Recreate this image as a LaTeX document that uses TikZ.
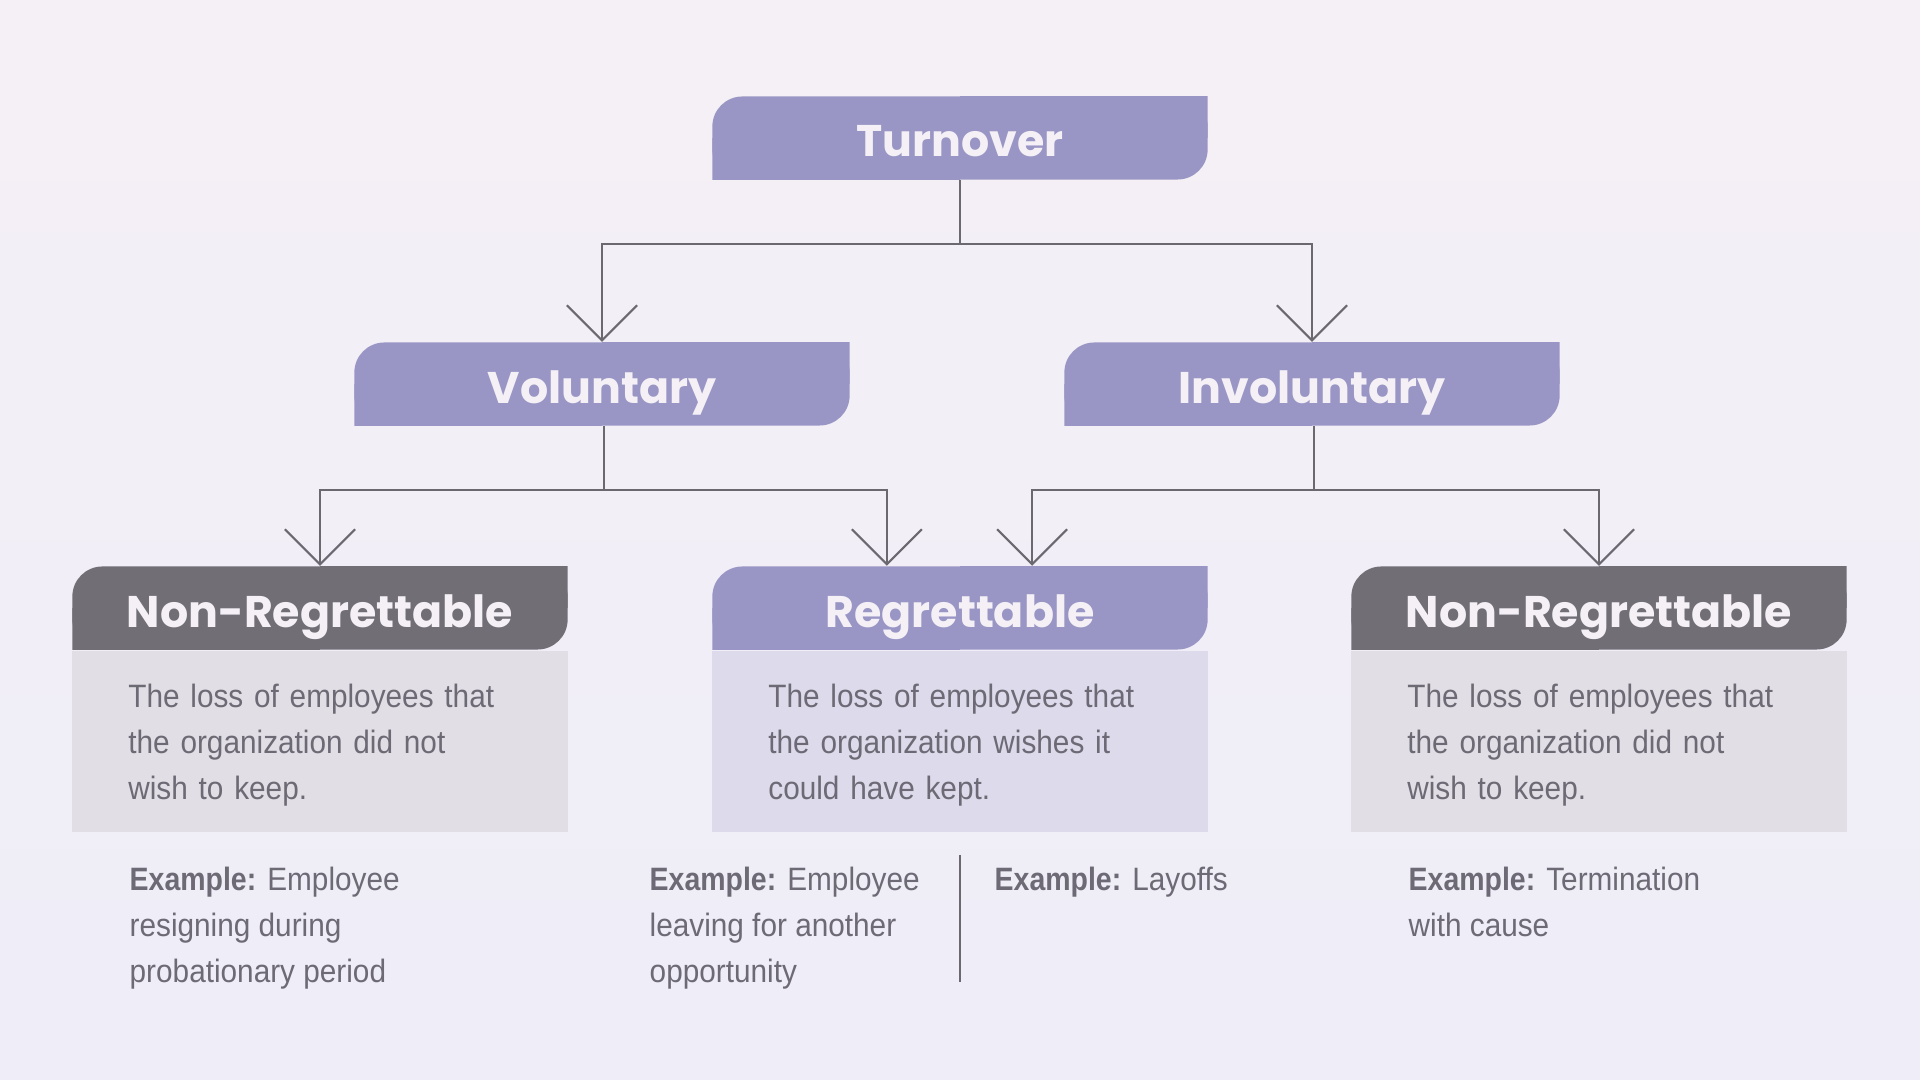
\documentclass[tikz,border=0pt]{standalone}
\usepackage{fontspec}
\setmainfont[FakeStretch=0.92,BoldFeatures={FakeStretch=0.88}]{Liberation Sans}
\newfontfamily\headfont{Poppins}
\usepackage{tikz}
\usetikzlibrary{positioning}
\usetikzlibrary{arrows.meta}
\definecolor[named]{tabpurple}{HTML}{9996C5}
\definecolor[named]{tabgrey}{HTML}{716E76}
\definecolor[named]{tabtext}{HTML}{F4F0F6}
\definecolor[named]{bodytext}{HTML}{6D6A75}
\definecolor[named]{linegrey}{HTML}{6B6870}
\tikzset{
  tab/.style={minimum width=4.95cm,minimum height=0.83cm,inner sep=0pt,text=tabtext,
    text height=0.38cm,text depth=0cm,
    font=\headfont\bfseries\fontsize{12.6}{15}\selectfont,
    path picture={
      \fill[#1,rounded corners=3mm] (path picture bounding box.south west) rectangle (path picture bounding box.north east);
      \fill[#1] (path picture bounding box.south west) rectangle (path picture bounding box.center);
      \fill[#1] (path picture bounding box.center) rectangle (path picture bounding box.north east);}},
  bodybox/.style={fill=#1,minimum height=1.81cm,text width=3.83cm,inner xsep=0.56cm,inner ysep=0pt,
    align=left,text=bodytext,font=\fontsize{9.2}{13.1}\selectfont},
  extext/.style={anchor=north west,inner sep=0pt,align=left,text=bodytext,font=\fontsize{9.2}{13.1}\selectfont}
}
\begin{document}
\begin{tikzpicture}[x=0.01cm,y=-0.01cm,>={Straight Barb[length=3.5mm,width=7mm]}]
\definecolor{bgtop}{HTML}{F5F0F5};
\definecolor{bgbot}{HTML}{EEEDF8};
\definecolor{greybody}{HTML}{E1DFE5};
\definecolor{purplebody}{HTML}{DCDAEB};
\shade[top color=bgtop,bottom color=bgbot] (0,0) rectangle (1920,1080);
\useasboundingbox (0,0) rectangle (1920,1080);
% the three levels
\node [tab=tabpurple] (to) at (960,138) {Turnover};
\node [tab=tabpurple] (vol) at (602,384) {Voluntary};
\node [tab=tabpurple] (invol) at (1312,384) {Involuntary};
\node [tab=tabgrey] (nrl) at (320,608) {Non-Regrettable};
\node [tab=tabpurple] (reg) at (960,608) {Regrettable};
\node [tab=tabgrey] (nrr) at (1599,608) {Non-Regrettable};
\node [bodybox=greybody,below=0pt of nrl] (nrlb) {\rule{0pt}{0.3cm}The loss of employees that\\the organization did not\\wish to keep.};
\node [bodybox=purplebody,below=0pt of reg] (regb) {\rule{0pt}{0.3cm}The loss of employees that\\the organization wishes it\\could have kept.};
\node [bodybox=greybody,below=0pt of nrr] (nrrb) {\rule{0pt}{0.3cm}The loss of employees that\\the organization did not\\wish to keep.};
% examples
\node [extext] (exl) at (129,866) {\textbf{Example:} Employee\\resigning during\\probationary period};
\node [extext] (exm) at (649,866) {\textbf{Example:} Employee\\leaving for another\\opportunity};
\node [extext] (exm2) at (994,866) {\textbf{Example:} Layoffs};
\node [extext] (exr) at (1408,866) {\textbf{Example:} Termination\\with cause};
% connectors
\begin{scope}[draw=linegrey,line width=0.6pt]
\coordinate (j1) at (960,244);
\coordinate (j2) at (604,490);
\coordinate (j3) at (1314,490);
\draw[->] (to.south) -- (j1) -| (vol.north);
\draw[->] (j1) -| (invol.north);
\draw[->] (vol.south -| j2) -- (j2) -| (nrl.north);
\draw[->] (j2) -| ([xshift=-0.73cm]reg.north);
\draw[->] (invol.south -| j3) -- (j3) -| ([xshift=0.72cm]reg.north);
\draw[->] (j3) -| (nrr.north);
\coordinate (s1) at (960,855);
\coordinate (s2) at (960,982);
\draw (s1) -- (s2);
\end{scope}
\end{tikzpicture}
\end{document}
